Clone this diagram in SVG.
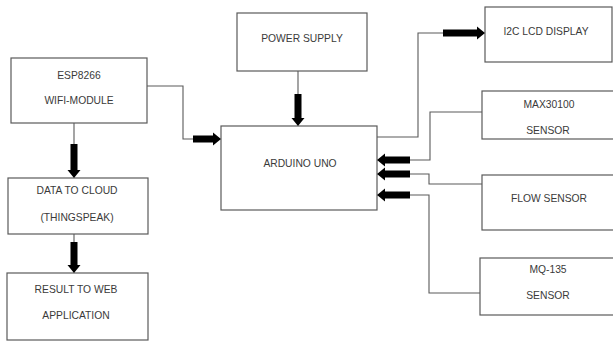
<svg xmlns="http://www.w3.org/2000/svg" width="613" height="342" viewBox="0 0 613 342">
<style>
.box{fill:#fff;stroke:#5a5a5a;stroke-width:1.2}
.t{font-family:"Liberation Sans",Arial,sans-serif;font-size:10.3px;fill:#3a3a3a;text-anchor:middle}
.ln{fill:none;stroke:#5a5a5a;stroke-width:1.1}
.ar{fill:#000}
</style>
<rect width="613" height="342" fill="#fff"/>
<g id="esp8266"><rect class="box" x="11" y="58" width="136" height="65"/><text class="t" x="79" y="79">ESP8266</text><text class="t" x="79" y="104">WIFI-MODULE</text></g>
<g id="cloud"><rect class="box" x="8" y="178" width="140" height="56"/><text class="t" x="77" y="194">DATA TO CLOUD</text><text class="t" x="77" y="221">(THINGSPEAK)</text></g>
<g id="result"><rect class="box" x="7" y="273" width="141" height="67"/><text class="t" x="76" y="293">RESULT TO WEB</text><text class="t" x="76" y="319">APPLICATION</text></g>
<g id="power"><rect class="box" x="237" y="13" width="130" height="58"/><text class="t" x="302" y="42">POWER SUPPLY</text></g>
<g id="arduino"><rect class="box" x="221" y="126" width="156" height="84"/><text class="t" x="300" y="167">ARDUINO UNO</text></g>
<g id="lcd"><rect class="box" x="485" y="7" width="127" height="55"/><text class="t" x="546" y="35">I2C LCD DISPLAY</text></g>
<g id="max30100"><rect class="box" x="482" y="91" width="133" height="48"/><text class="t" x="549" y="108">MAX30100</text><text class="t" x="548" y="134">SENSOR</text></g>
<g id="flow"><rect class="box" x="482" y="175" width="133" height="55"/><text class="t" x="549" y="202">FLOW SENSOR</text></g>
<g id="mq135"><rect class="box" x="480" y="258" width="135" height="57"/><text class="t" x="548" y="273">MQ-135</text><text class="t" x="548" y="299">SENSOR</text></g>
<g id="connectors">
<path class="ln" d="M147,86 H183 V139 H193"/>
<path class="ln" d="M298,71 V94"/>
<path class="ln" d="M377,137 H418 V33 H443"/>
<path class="ln" d="M482,112 H430 V160 H410"/>
<path class="ln" d="M482,184 H429 V174 H410"/>
<path class="ln" d="M480,293 H429 V195 H410"/>
<path class="ln" d="M74,123 V144"/>
<path class="ln" d="M74,234 V242"/>
<path class="ar" d="M193,135.5 H213 V132.5 L221,139 L213,145.5 V142.5 H193 Z"/>
<path class="ar" d="M294.5,94 V118 H291.5 L298,126 L304.5,118 H301.5 V94 Z"/>
<path class="ar" d="M443,29.5 H477 V26.5 L485,33 L477,39.5 V36.5 H443 Z"/>
<path class="ar" d="M410,156.5 H385 V153.5 L377,160 L385,166.5 V163.5 H410 Z"/>
<path class="ar" d="M410,170.5 H385 V167.5 L377,174 L385,180.5 V177.5 H410 Z"/>
<path class="ar" d="M410,191.5 H385 V188.5 L377,195 L385,201.5 V198.5 H410 Z"/>
<path class="ar" d="M70.5,144 V170 H67.5 L74,178 L80.5,170 H77.5 V144 Z"/>
<path class="ar" d="M70.5,242 V265 H67.5 L74,273 L80.5,265 H77.5 V242 Z"/>
</g>
</svg>
